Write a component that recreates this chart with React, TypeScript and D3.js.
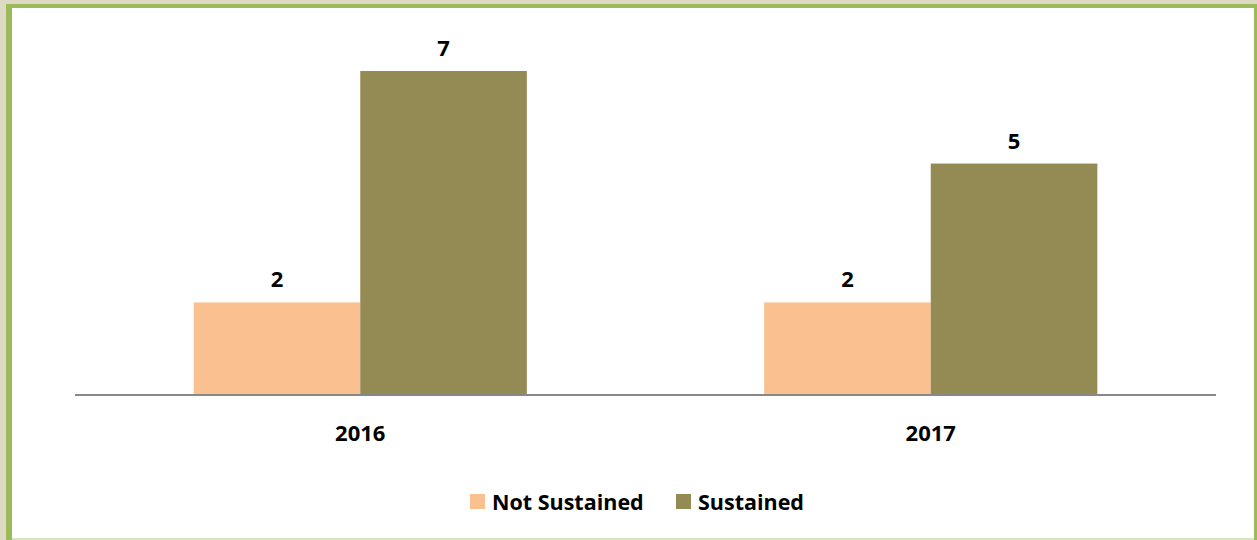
import React from "react";
import * as d3 from "d3";

const categories = ["2016", "2017"];
const seriesNames = ["Not Sustained", "Sustained"];
const notSustained = [2, 2];
const sustained = [7, 5];
const seriesColors = ["#FAC090", "#948A54"];

const W = 1257;
const H = 540;

export default function App() {
  const plotLeft = 75;
  const plotRight = 1216;
  const baseY = 395;
  const x0 = d3.scaleBand().domain(categories).range([plotLeft, plotRight]).paddingInner(0.416).paddingOuter(0.208);
  const x1 = d3.scaleBand().domain(seriesNames).range([0, x0.bandwidth()]);
  const y = d3.scaleLinear().domain([0, 7]).range([baseY, 71]);
  const values = [notSustained, sustained];
  const font = "'Open Sans', sans-serif";

  const legendItems = [
    { name: seriesNames[0], color: seriesColors[0], x: 470 },
    { name: seriesNames[1], color: seriesColors[1], x: 676 },
  ];

  return (
    <svg width={W} height={H} style={{ position: "absolute", left: 0, top: 0 }} fontFamily={font}>
      <rect x={0} y={0} width={W} height={H} fill="#DDD9C3" />
      <rect x={6} y={4} width={W - 6} height={H - 4} fill="#9BBB59" />
      <rect x={12} y={8} width={1242} height={530} fill="#FFFFFF" />
      <rect x={12} y={538} width={1242} height={2} fill="#D7E4BD" />
      {categories.map((c, ci) =>
        values.map((vals, si) => {
          const xx = (x0(c) ?? 0) + (x1(seriesNames[si]) ?? 0);
          const bw = x1.bandwidth();
          return (
            <g key={c + si}>
              <rect x={xx} y={y(vals[ci])} width={bw} height={baseY - y(vals[ci])} fill={seriesColors[si]} />
              <text x={xx + bw / 2} y={y(vals[ci]) - 15} textAnchor="middle" fontSize={22} fontWeight="bold" fill="#000">
                {vals[ci]}
              </text>
            </g>
          );
        })
      )}
      <line x1={plotLeft} x2={plotRight} y1={baseY} y2={baseY} stroke="#888888" strokeWidth={2} />
      {categories.map((c) => (
        <text key={c} x={(x0(c) ?? 0) + x0.bandwidth() / 2} y={441} textAnchor="middle" fontSize={22} fontWeight="bold" fill="#000">
          {c}
        </text>
      ))}
      {legendItems.map((l) => (
        <g key={l.name}>
          <rect x={l.x} y={494} width={15} height={15} fill={l.color} />
          <text x={l.x + 22} y={510} fontSize={21.5} fontWeight="bold" fill="#000">
            {l.name}
          </text>
        </g>
      ))}
    </svg>
  );
}
